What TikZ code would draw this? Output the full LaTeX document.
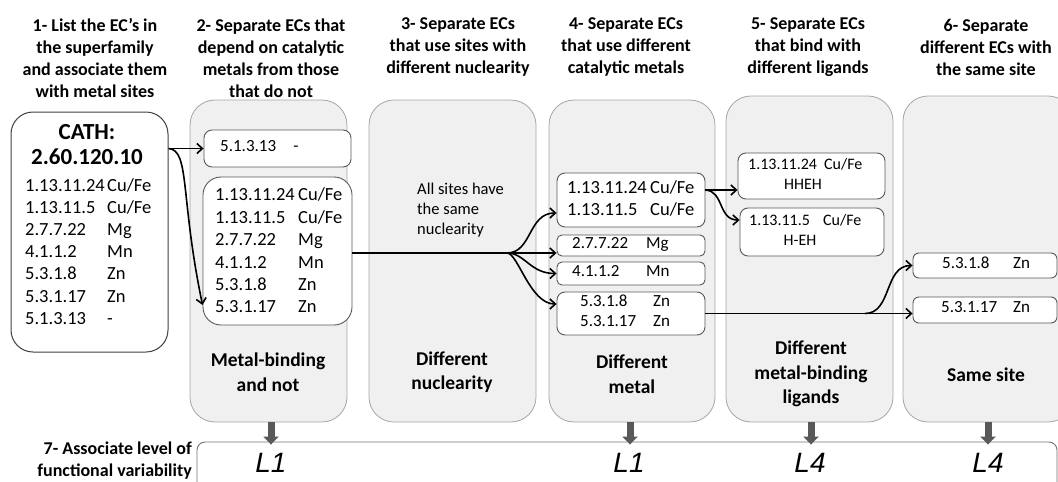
\documentclass[tikz,border=0pt]{standalone}
\usepackage{fontspec}
\setmainfont{Carlito}
\newfontfamily\arialfont{Liberation Sans}
\usetikzlibrary{arrows.meta}
\definecolor{colfill}{HTML}{F0F0F0}
\definecolor{coldraw}{HTML}{A6A6A6}
\definecolor{boxdraw}{HTML}{595959}
\definecolor{garrowc}{HTML}{595959}
\begin{document}
\begin{tikzpicture}[x=1pt,y=-1pt,
  colbox/.style={draw=coldraw, fill=colfill, rounded corners=25pt, line width=0.8pt, inner sep=0pt},
  ecbox/.style={draw=boxdraw, fill=white, rounded corners=8pt, line width=0.9pt, inner sep=0pt},
  cathbox/.style={draw=black!75, fill=white, rounded corners=22pt, line width=1pt, inner sep=0pt},
  levbox/.style={draw=black!55, fill=white, rounded corners=8pt, line width=0.9pt, inner sep=0pt},
  head/.style={font=\fontsize{18}{22}\selectfont\bfseries, align=center, inner sep=0pt},
  lab/.style={font=\fontsize{19.5}{24.5}\selectfont\bfseries, align=center, inner sep=0pt},
  ecbig/.style={anchor=west, inner sep=0pt, font=\fontsize{18.5}{22}\selectfont, text height=1.5ex, text depth=.25ex},
  ecsmall/.style={anchor=west, inner sep=0pt, font=\fontsize{17}{20}\selectfont, text height=1.5ex, text depth=.25ex},
  ecsmallc/.style={anchor=center, inner sep=0pt, font=\fontsize{17}{20}\selectfont, text height=1.5ex, text depth=.25ex},
  ecd/.style={anchor=west, inner sep=0pt, font=\fontsize{16}{20}\selectfont, text height=1.5ex, text depth=.25ex},
  ecdc/.style={anchor=center, inner sep=0pt, font=\fontsize{16}{20}\selectfont, text height=1.5ex, text depth=.25ex},
  conn/.style={draw=black, line width=1.6pt, -{Straight Barb[length=5.5pt,width=10pt]}},
  plain/.style={draw=black, line width=1.6pt},
  garrow/.style={draw=garrowc, line width=7pt, -{Triangle[width=15pt,length=8pt]}},
  lvl/.style={font=\arialfont\itshape\fontsize{28}{28}\selectfont, inner sep=0pt}
]
\useasboundingbox (0,0) rectangle (1058,482);
\clip (0,0) rectangle (1058,482);

% headings
\node[head] (h1) at (95,58) {1- List the EC’s in\\the superfamily\\and associate them\\with metal sites};
\node[head] (h2) at (271,58) {2- Separate ECs that\\depend on catalytic\\metals from those\\that do not};
\node[head] (h3) at (458,47) {3- Separate ECs\\that use sites with\\different nuclearity};
\node[head] (h4) at (626,47) {4- Separate ECs\\that use different\\catalytic metals};
\node[head] (h5) at (808,47) {5- Separate ECs\\that bind with\\different ligands};
\node[head] (h6) at (986,47) {6- Separate\\different ECs with\\the same site};

% column boxes
\node[colbox, minimum width=157pt, minimum height=322pt] (col2) at (268.5,261) {};
\node[colbox, minimum width=167pt, minimum height=322pt] (col3) at (452.5,261) {};
\node[colbox, minimum width=166pt, minimum height=322pt] (col4) at (632,261) {};
\node[colbox, minimum width=167pt, minimum height=326pt] (col5) at (809.5,259) {};
\node[colbox, minimum width=170pt, minimum height=326pt] (col6) at (988,259) {};

% column labels
\node[lab] (l2) at (268,372) {Metal-binding\\and not};
\node[lab] (l3) at (452,372) {Different\\nuclearity};
\node[lab] (l4) at (632,374) {Different\\metal};
\node[lab] (l5) at (811,374) {Different\\metal-binding\\ligands};
\node[lab] (l6) at (986,375) {Same site};

% CATH box
\node[cathbox, minimum width=157pt, minimum height=240pt] (cath) at (89.5,232) {};
\node[font=\fontsize{23}{25}\selectfont\bfseries, align=center, inner sep=0pt] (cathtitle) at (87,145) {CATH:\\2.60.120.10};
\foreach \ec/\mt [count=\i] in {1.13.11.24/{Cu/Fe}, 1.13.11.5/{Cu/Fe}, 2.7.7.22/Mg, 4.1.1.2/Mn, 5.3.1.8/Zn, 5.3.1.17/Zn, 5.1.3.13/-} {
  \node[ecbig] (cathec\i) at (25,166+22.2*\i) {\ec};
  \node[ecbig] (cathmt\i) at (107,166+22.2*\i) {\mt};
}

% column 2 boxes
\node[ecbox, minimum width=147pt, minimum height=37pt] (a) at (277.5,148.5) {};
\node[ecsmall] (aec) at (220,148.5) {5.1.3.13};
\node[ecsmallc] (amt) at (296,148.5) {-};
\node[ecbox, minimum width=149pt, minimum height=148pt, rounded corners=18pt] (b) at (277.5,251) {};
\foreach \ec/\mt [count=\i] in {1.13.11.24/{Cu/Fe}, 1.13.11.5/{Cu/Fe}, 2.7.7.22/Mg, 4.1.1.2/Mn, 5.3.1.8/Zn, 5.3.1.17/Zn} {
  \node[ecbig] (bec\i) at (215,175.6+22.4*\i) {\ec};
  \node[ecbig] (bmt\i) at (298,175.6+22.4*\i) {\mt};
}

% column 3 text
\node[font=\fontsize{16.5}{20}\selectfont, align=left, anchor=north west, inner sep=0pt] (same) at (417,183) {All sites have\\the same\\nuclearity};

% column 4 boxes
\node[ecbox, minimum width=148pt, minimum height=54pt] (c1) at (631,200) {};
\node[ecbig] (c1ec1) at (567,191) {1.13.11.24};
\node[ecbig] (c1mt1) at (650,191) {Cu/Fe};
\node[ecbig] (c1ec2) at (567,213) {1.13.11.5};
\node[ecbig] (c1mt2) at (650,213) {Cu/Fe};
\node[ecbox, minimum width=148pt, minimum height=21pt, rounded corners=5pt] (c2) at (631,245.5) {};
\node[ecsmall] (c2ec) at (572,246) {2.7.7.22};
\node[ecsmall] (c2mt) at (646,246) {Mg};
\node[ecbox, minimum width=148pt, minimum height=23pt, rounded corners=5pt] (c3) at (631,273.5) {};
\node[ecsmall] (c3ec) at (572,274) {4.1.1.2};
\node[ecsmall] (c3mt) at (646,274) {Mn};
\node[ecbox, minimum width=148pt, minimum height=43pt] (c4) at (631,313.5) {};
\node[ecsmall] (c4ec1) at (580,304) {5.3.1.8};
\node[ecsmall] (c4mt1) at (653,304) {Zn};
\node[ecsmall] (c4ec2) at (580,324) {5.3.1.17};
\node[ecsmall] (c4mt2) at (653,324) {Zn};

% column 5 boxes
\node[ecbox, minimum width=147pt, minimum height=46pt] (d1) at (811.5,176) {};
\node[ecd] (d1ec) at (748,167) {1.13.11.24};
\node[ecd] (d1mt) at (824,167) {Cu/Fe};
\node[ecdc] (d1lig) at (803,187) {HHEH};
\node[ecbox, minimum width=144pt, minimum height=48pt] (d2) at (812,232) {};
\node[ecd] (d2ec) at (749,223) {1.13.11.5};
\node[ecd] (d2mt) at (823,223) {Cu/Fe};
\node[ecdc] (d2lig) at (800,243) {H-EH};

% column 6 boxes
\node[ecbox, minimum width=144pt, minimum height=25pt, rounded corners=6pt] (e1) at (985,265.5) {};
\node[ecsmall] (e1ec) at (942,265.5) {5.3.1.8};
\node[ecsmall] (e1mt) at (1013,265.5) {Zn};
\node[ecbox, minimum width=144pt, minimum height=26pt, rounded corners=6pt] (e2) at (985,310) {};
\node[ecsmall] (e2ec) at (941,310) {5.3.1.17};
\node[ecsmall] (e2mt) at (1013,310) {Zn};

% level box
\node[levbox, minimum width=860pt, minimum height=68pt] (lev) at (627,476) {};
\node[font=\fontsize{18}{22}\selectfont\bfseries, align=right, anchor=east, inner sep=0pt] (h7) at (192,461) {7- Associate level of\\functional variability};
\node[lvl] (lv2) at (271,463) {L1};
\node[lvl] (lv4) at (629,463) {L1};
\node[lvl] (lv5) at (810,463) {L4};
\node[lvl] (lv6) at (988,463) {L4};

% grey arrows
\draw[garrow] ([xshift=2.5pt]col2.south) -- ([xshift=2.5pt,yshift=-3pt]col2.south |- lev.north);
\draw[garrow] ([xshift=-2pt]col4.south) -- ([xshift=-2pt,yshift=-3pt]col4.south |- lev.north);
\draw[garrow] ([xshift=1.5pt]col5.south) -- ([xshift=1.5pt,yshift=-3pt]col5.south |- lev.north);
\draw[garrow] (col6.south) -- ([yshift=-3pt]col6.south |- lev.north);

% connectors
\coordinate (cathout) at (cath.east |- a.west);
\draw[conn] (cathout) -- (a.west);
\draw[conn] (cathout) .. controls (190,150) and (180,197) .. ([yshift=-54pt]b.west);

\coordinate (br1) at (507,253);
\draw[plain] (b.east |- br1) -- (br1);
\draw[conn] (br1) .. controls (532,253) and (528,213) .. ([yshift=-13pt]c1.west);
\draw[conn] (br1) -- (c2.west |- br1);
\draw[conn] (br1) .. controls (525,253) and (530,273.5) .. (c3.west);
\draw[conn] (br1) .. controls (518,253) and (530,304) .. ([yshift=9.5pt]c4.west);

\coordinate (c1out) at ([yshift=10pt]c1.east);
\draw[conn] (c1out) -- (d1.west |- c1out);
\draw[conn] (c1out) .. controls (724,191) and (718,220) .. ([yshift=12pt]d2.west);

\coordinate (br2) at (865,313.5);
\draw[conn] (c4.east) -- (e2.west |- c4.east);
\draw[conn] (br2) .. controls (892,313.5) and (884,265.5) .. (e1.west);
\end{tikzpicture}
\end{document}
